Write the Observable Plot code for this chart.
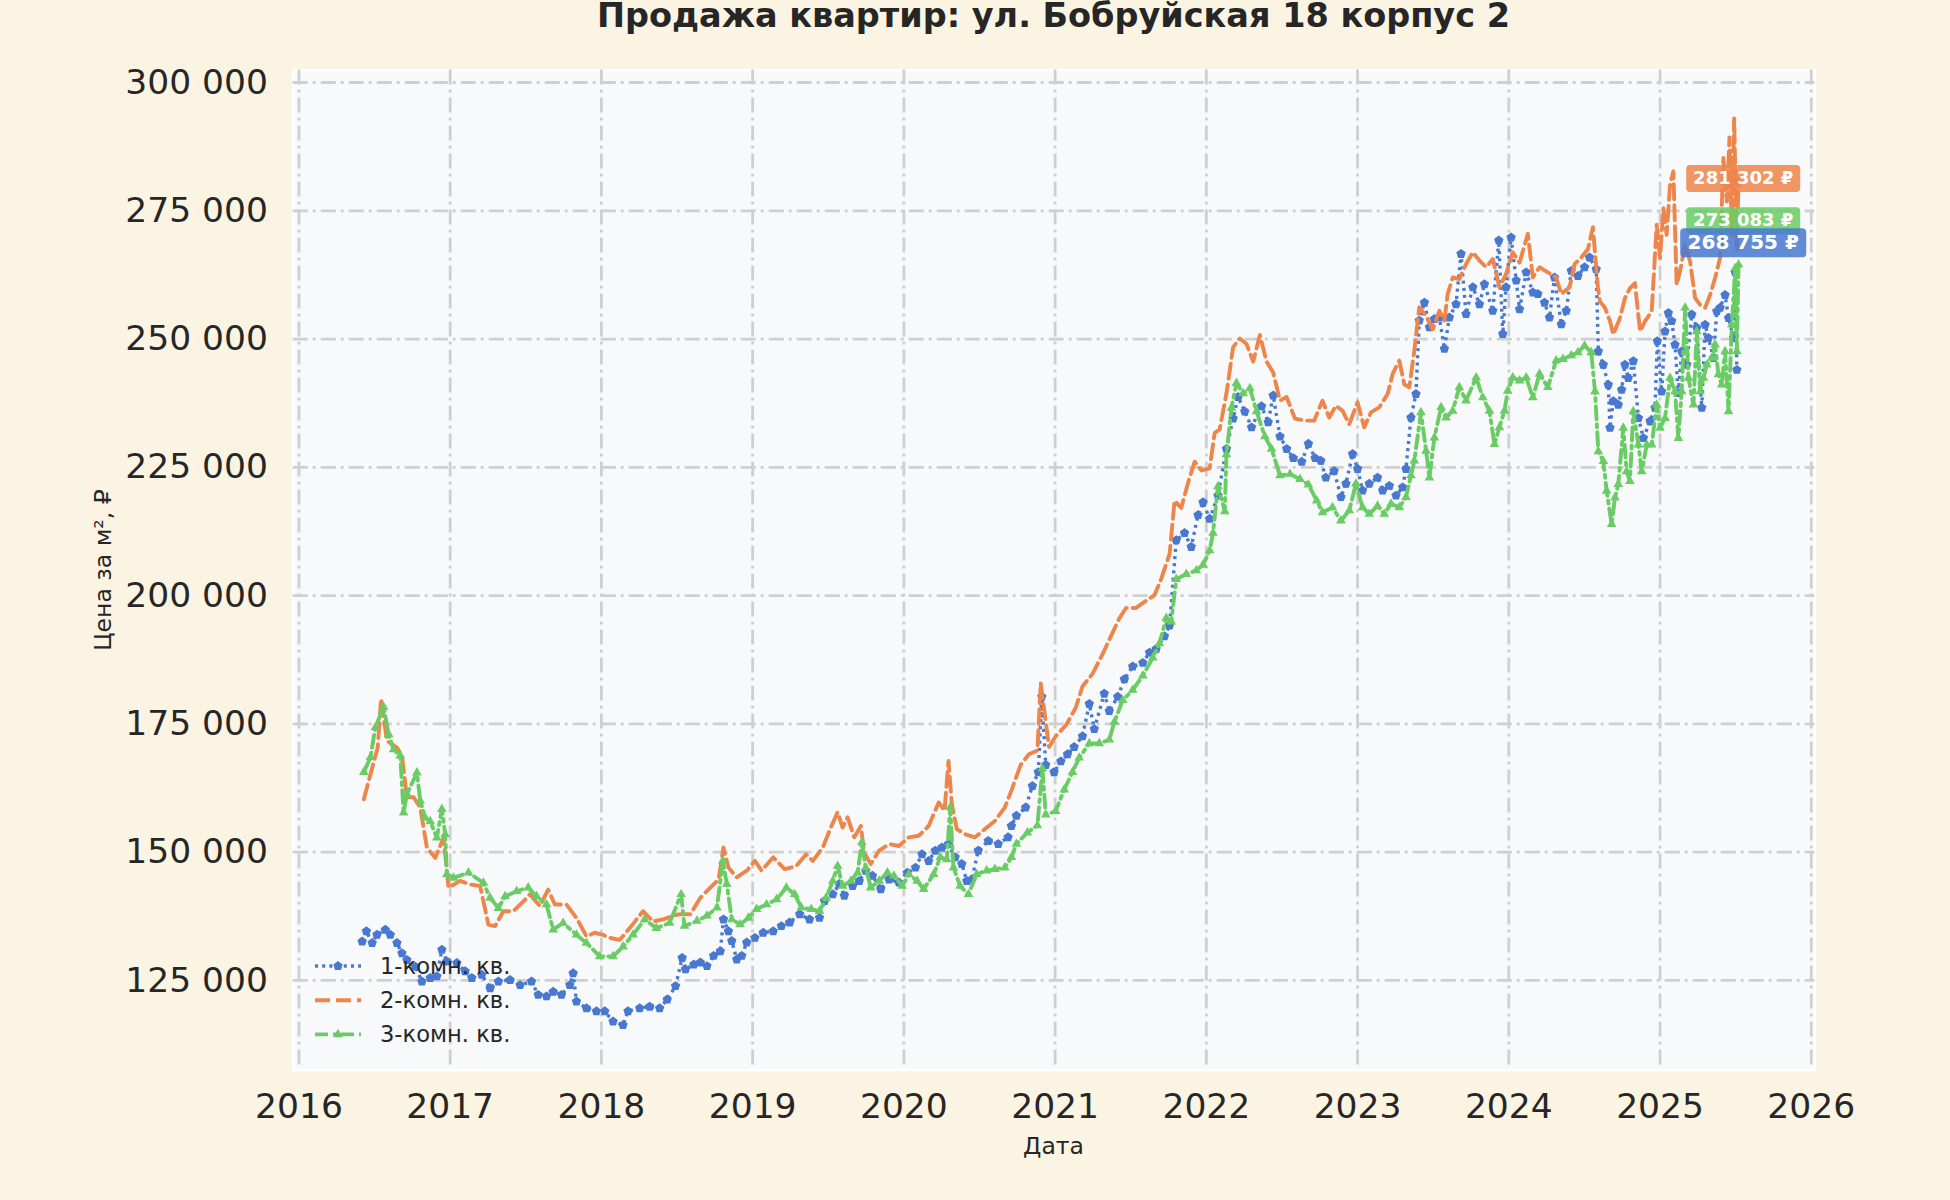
<!DOCTYPE html>
<html><head><meta charset="utf-8">
<script src="https://cdn.jsdelivr.net/npm/d3@7"></script>
<script src="https://cdn.jsdelivr.net/npm/@observablehq/plot@0.6"></script>
<style>
html,body{margin:0;padding:0;background:#fbf4e2;}
#chart{width:1950px;height:1200px;position:relative;}
</style></head><body><div id="chart"></div>
<script>
// Series: [decimal year, price per m² in thousands of ₽]
const room1 = [[2016.418,132.6],[2016.446,134.6],[2016.484,132.3],[2016.516,133.9],[2016.571,134.9],[2016.604,133.9],[2016.648,132.3],[2016.681,130.3],[2016.714,129.0],[2016.769,127.7],[2016.813,124.8],[2016.868,125.5],[2016.912,125.8],[2016.945,131.0],[2016.978,128.7],[2017.044,128.4],[2017.099,126.8],[2017.143,125.5],[2017.209,126.1],[2017.264,123.5],[2017.319,124.8],[2017.396,125.1],[2017.462,124.1],[2017.538,124.8],[2017.582,122.2],[2017.637,121.9],[2017.681,122.8],[2017.736,122.2],[2017.791,124.1],[2017.813,126.4],[2017.835,120.9],[2017.901,119.6],[2017.967,119.0],[2018.022,119.0],[2018.077,117.0],[2018.143,116.3],[2018.176,119.0],[2018.253,119.6],[2018.319,119.9],[2018.385,119.6],[2018.435,121.3],[2018.490,123.9],[2018.534,129.4],[2018.556,127.2],[2018.611,128.1],[2018.654,128.5],[2018.698,127.8],[2018.742,129.8],[2018.786,130.7],[2018.807,136.9],[2018.840,134.6],[2018.862,132.7],[2018.895,129.1],[2018.928,129.8],[2018.961,132.4],[2019.015,133.3],[2019.070,134.3],[2019.136,134.6],[2019.190,135.6],[2019.245,136.3],[2019.311,137.9],[2019.376,136.9],[2019.442,137.2],[2019.475,140.5],[2019.530,141.8],[2019.573,143.8],[2019.606,141.5],[2019.661,143.4],[2019.705,144.4],[2019.748,146.4],[2019.792,145.4],[2019.847,142.8],[2019.902,144.7],[2019.967,144.1],[2020.022,146.0],[2020.077,147.0],[2020.120,149.6],[2020.164,148.3],[2020.208,150.3],[2020.252,150.9],[2020.295,151.6],[2020.339,149.0],[2020.383,147.7],[2020.416,144.4],[2020.449,144.7],[2020.492,150.3],[2020.558,152.2],[2020.624,151.6],[2020.689,152.9],[2020.711,155.1],[2020.744,157.1],[2020.805,158.7],[2020.850,162.9],[2020.889,165.6],[2020.912,180.3],[2020.938,167.0],[2020.993,165.6],[2021.038,167.7],[2021.082,169.1],[2021.126,170.5],[2021.181,172.6],[2021.226,178.9],[2021.259,174.0],[2021.325,180.9],[2021.358,177.5],[2021.414,180.3],[2021.458,183.7],[2021.513,186.2],[2021.580,186.9],[2021.624,188.9],[2021.668,189.6],[2021.723,192.1],[2021.757,194.2],[2021.801,210.8],[2021.856,212.2],[2021.900,209.5],[2021.945,215.7],[2021.978,218.2],[2022.022,215.0],[2022.077,219.5],[2022.133,228.6],[2022.177,234.5],[2022.210,238.7],[2022.254,235.9],[2022.299,232.8],[2022.365,236.9],[2022.409,233.8],[2022.442,239.0],[2022.487,231.0],[2022.531,228.6],[2022.575,226.8],[2022.631,226.1],[2022.675,229.6],[2022.719,226.8],[2022.757,226.3],[2022.790,223.0],[2022.845,224.3],[2022.890,219.2],[2022.923,221.8],[2022.967,227.6],[2023.000,224.7],[2023.033,220.5],[2023.077,221.8],[2023.132,223.0],[2023.166,220.5],[2023.210,221.4],[2023.254,219.5],[2023.298,221.1],[2023.320,224.7],[2023.353,234.7],[2023.386,239.3],[2023.408,253.6],[2023.442,257.1],[2023.475,252.3],[2023.508,253.9],[2023.541,254.2],[2023.574,248.1],[2023.607,254.2],[2023.651,256.8],[2023.684,266.6],[2023.717,254.9],[2023.762,260.1],[2023.806,256.8],[2023.839,260.7],[2023.894,255.5],[2023.934,269.2],[2023.960,251.0],[2023.982,260.1],[2024.015,269.8],[2024.049,261.4],[2024.071,255.8],[2024.115,263.0],[2024.159,259.1],[2024.192,258.8],[2024.236,257.1],[2024.269,254.2],[2024.302,262.0],[2024.347,252.9],[2024.380,255.5],[2024.413,263.3],[2024.457,262.3],[2024.501,264.0],[2024.534,265.9],[2024.578,263.6],[2024.592,247.6],[2024.625,245.0],[2024.658,241.1],[2024.669,232.7],[2024.691,237.9],[2024.724,237.2],[2024.746,240.1],[2024.768,245.0],[2024.790,242.4],[2024.823,245.7],[2024.857,234.6],[2024.890,230.7],[2024.934,234.0],[2024.967,236.6],[2024.982,249.6],[2025.011,239.8],[2025.033,251.5],[2025.055,255.1],[2025.077,253.5],[2025.099,248.9],[2025.121,239.5],[2025.143,247.6],[2025.177,245.0],[2025.210,254.8],[2025.243,252.2],[2025.276,236.6],[2025.298,252.8],[2025.320,250.2],[2025.353,246.3],[2025.375,255.4],[2025.397,256.1],[2025.430,258.6],[2025.453,254.1],[2025.486,250.2],[2025.497,263.0],[2025.508,244.0]];

const room2 = [[2016.429,160.3],[2016.473,165.2],[2016.521,170.4],[2016.543,179.9],[2016.582,171.7],[2016.648,170.4],[2016.681,168.8],[2016.714,160.7],[2016.758,160.7],[2016.802,158.7],[2016.846,150.9],[2016.901,148.9],[2016.956,152.8],[2016.989,143.1],[2017.066,144.4],[2017.132,143.7],[2017.198,143.4],[2017.253,135.9],[2017.297,135.6],[2017.352,138.5],[2017.418,138.5],[2017.484,140.4],[2017.527,141.8],[2017.593,139.5],[2017.648,142.7],[2017.692,139.8],[2017.769,139.8],[2017.835,137.2],[2017.901,133.6],[2017.956,134.3],[2018.011,133.9],[2018.055,133.3],[2018.121,132.9],[2018.187,135.2],[2018.275,138.5],[2018.341,136.5],[2018.407,136.9],[2018.495,137.8],[2018.523,137.9],[2018.589,137.9],[2018.654,141.1],[2018.720,143.1],[2018.775,144.7],[2018.807,150.9],[2018.840,147.0],[2018.895,145.1],[2018.961,146.4],[2019.015,148.3],[2019.059,146.4],[2019.136,149.0],[2019.212,146.7],[2019.289,147.3],[2019.354,149.6],[2019.398,148.3],[2019.464,150.9],[2019.508,154.2],[2019.562,157.8],[2019.595,154.8],[2019.628,156.8],[2019.672,152.9],[2019.716,155.1],[2019.737,149.9],[2019.781,147.7],[2019.836,150.3],[2019.902,151.6],[2019.967,151.2],[2020.033,152.9],[2020.098,153.2],[2020.164,155.1],[2020.230,159.7],[2020.269,158.1],[2020.295,167.8],[2020.317,159.4],[2020.350,154.5],[2020.405,153.5],[2020.470,152.9],[2020.536,154.5],[2020.602,156.1],[2020.667,158.7],[2020.711,162.0],[2020.772,167.0],[2020.827,169.1],[2020.883,169.8],[2020.905,183.0],[2020.938,175.4],[2020.960,170.5],[2021.004,172.6],[2021.071,174.7],[2021.137,178.2],[2021.181,182.3],[2021.248,184.8],[2021.314,188.6],[2021.358,191.4],[2021.425,195.6],[2021.469,197.6],[2021.535,197.6],[2021.602,199.0],[2021.657,200.1],[2021.701,203.2],[2021.757,208.1],[2021.790,218.5],[2021.834,217.1],[2021.879,222.0],[2021.923,226.1],[2021.967,224.4],[2022.022,224.8],[2022.055,231.7],[2022.088,232.4],[2022.133,239.4],[2022.177,248.4],[2022.221,250.1],[2022.265,249.1],[2022.310,245.6],[2022.354,250.8],[2022.398,245.6],[2022.442,243.5],[2022.487,238.0],[2022.531,238.7],[2022.586,234.5],[2022.653,234.1],[2022.713,234.1],[2022.768,238.0],[2022.812,234.7],[2022.857,237.0],[2022.901,236.0],[2022.945,233.4],[2023.000,237.7],[2023.044,232.8],[2023.088,235.7],[2023.143,236.7],[2023.199,239.3],[2023.232,243.2],[2023.276,245.8],[2023.309,241.2],[2023.342,240.6],[2023.375,247.7],[2023.408,256.2],[2023.453,254.5],[2023.497,251.9],[2023.541,255.5],[2023.574,253.6],[2023.596,258.8],[2023.629,262.0],[2023.673,261.7],[2023.717,264.6],[2023.762,266.9],[2023.806,265.3],[2023.850,264.0],[2023.894,265.6],[2023.938,260.1],[2023.982,262.7],[2024.026,266.9],[2024.071,264.9],[2024.126,270.5],[2024.159,262.0],[2024.203,264.0],[2024.258,263.0],[2024.313,262.0],[2024.347,258.8],[2024.402,260.1],[2024.435,264.6],[2024.479,265.9],[2024.523,267.5],[2024.556,271.8],[2024.589,260.1],[2024.603,257.3],[2024.636,256.1],[2024.669,253.5],[2024.691,250.9],[2024.735,254.1],[2024.768,258.0],[2024.801,259.9],[2024.834,260.9],[2024.868,251.5],[2024.901,253.5],[2024.945,255.4],[2024.978,272.3],[2025.000,265.8],[2025.022,275.5],[2025.044,270.3],[2025.066,280.1],[2025.088,282.7],[2025.110,260.6],[2025.132,263.2],[2025.166,268.4],[2025.199,265.1],[2025.232,258.0],[2025.265,256.7],[2025.298,256.1],[2025.331,258.6],[2025.364,261.9],[2025.397,265.8],[2025.419,285.3],[2025.442,276.8],[2025.459,289.3],[2025.475,270.3],[2025.490,293.0],[2025.508,267.1],[2025.519,281.3]];

const room3 = [[2016.429,165.6],[2016.473,168.5],[2016.505,174.3],[2016.560,178.3],[2016.593,173.0],[2016.626,170.0],[2016.670,168.8],[2016.692,157.7],[2016.714,161.3],[2016.780,165.5],[2016.802,160.0],[2016.835,156.7],[2016.868,156.0],[2016.912,152.8],[2016.945,158.4],[2016.967,153.5],[2016.978,145.7],[2017.022,145.0],[2017.121,146.0],[2017.220,144.0],[2017.264,141.1],[2017.319,139.1],[2017.363,141.4],[2017.440,142.4],[2017.516,143.1],[2017.571,141.4],[2017.637,139.8],[2017.681,134.9],[2017.747,136.2],[2017.835,133.9],[2017.901,132.3],[2017.989,129.7],[2018.077,129.7],[2018.143,131.6],[2018.209,133.9],[2018.286,136.9],[2018.363,135.2],[2018.451,136.2],[2018.527,141.8],[2018.549,135.6],[2018.632,136.6],[2018.698,137.6],[2018.764,139.2],[2018.803,148.3],[2018.829,143.8],[2018.862,136.9],[2018.917,135.9],[2018.972,137.2],[2019.026,138.9],[2019.092,139.8],[2019.158,140.8],[2019.223,143.1],[2019.278,141.8],[2019.322,139.2],[2019.387,138.9],[2019.442,138.5],[2019.486,141.1],[2019.530,144.4],[2019.562,147.3],[2019.595,143.4],[2019.650,144.4],[2019.694,146.0],[2019.722,151.9],[2019.748,147.0],[2019.781,143.1],[2019.836,144.4],[2019.891,146.0],[2019.934,145.4],[2019.989,143.4],[2020.033,145.7],[2020.088,144.4],[2020.131,142.8],[2020.197,145.7],[2020.241,149.0],[2020.284,148.6],[2020.306,158.7],[2020.328,147.0],[2020.372,143.4],[2020.427,141.8],[2020.481,145.7],[2020.547,146.4],[2020.602,146.7],[2020.667,147.0],[2020.711,149.0],[2020.744,151.6],[2020.816,153.8],[2020.883,155.2],[2020.916,166.3],[2020.938,157.3],[2021.004,158.0],[2021.060,162.2],[2021.115,165.6],[2021.159,168.4],[2021.226,171.2],[2021.292,171.2],[2021.358,171.9],[2021.392,175.4],[2021.447,179.6],[2021.513,181.6],[2021.580,184.4],[2021.646,187.9],[2021.690,190.7],[2021.735,195.6],[2021.768,194.9],[2021.801,203.2],[2021.867,204.2],[2021.934,204.9],[2021.978,206.0],[2022.022,208.8],[2022.044,212.2],[2022.077,221.3],[2022.122,216.4],[2022.133,227.5],[2022.166,236.6],[2022.199,241.4],[2022.243,239.4],[2022.288,240.4],[2022.332,235.9],[2022.387,231.0],[2022.431,228.6],[2022.487,223.4],[2022.553,223.7],[2022.619,222.7],[2022.675,221.6],[2022.730,218.5],[2022.768,216.2],[2022.834,217.2],[2022.890,214.6],[2022.945,216.6],[2022.989,221.8],[2023.033,217.2],[2023.077,215.9],[2023.132,217.5],[2023.177,215.9],[2023.221,217.9],[2023.276,217.2],[2023.320,219.2],[2023.353,223.4],[2023.375,226.3],[2023.419,235.7],[2023.453,228.2],[2023.475,223.0],[2023.508,230.8],[2023.552,236.7],[2023.585,234.7],[2023.629,236.0],[2023.673,240.6],[2023.717,238.0],[2023.784,242.5],[2023.828,238.6],[2023.872,236.0],[2023.905,229.5],[2023.938,232.8],[2023.971,236.0],[2023.993,239.9],[2024.026,242.5],[2024.071,241.9],[2024.115,242.5],[2024.159,238.6],[2024.203,243.2],[2024.258,240.6],[2024.313,245.8],[2024.358,246.1],[2024.413,246.8],[2024.457,247.4],[2024.501,248.7],[2024.545,247.4],[2024.570,239.8],[2024.592,228.1],[2024.625,226.2],[2024.647,220.4],[2024.680,213.9],[2024.702,219.1],[2024.724,221.7],[2024.757,232.7],[2024.779,224.2],[2024.801,222.3],[2024.823,235.9],[2024.857,229.4],[2024.879,224.2],[2024.912,229.4],[2024.945,229.4],[2024.978,237.2],[2025.000,232.7],[2025.033,234.6],[2025.066,242.4],[2025.099,239.8],[2025.121,230.7],[2025.143,239.8],[2025.166,256.1],[2025.188,242.4],[2025.221,237.2],[2025.243,251.5],[2025.265,239.8],[2025.287,242.4],[2025.309,245.0],[2025.342,246.3],[2025.364,248.9],[2025.386,243.1],[2025.408,241.1],[2025.430,247.6],[2025.453,235.9],[2025.475,252.8],[2025.497,263.8],[2025.508,247.6],[2025.519,264.5]];

const seriesNames = ["1-комн. кв.", "2-комн. кв.", "3-комн. кв."];
const seriesColors = ["#4878d0", "#ee854a", "#6acc64"];
const lastValues = [268755, 281302, 273083];   // ₽ per m²
const labelYear = 2025.55;
const xTicks = [2016, 2017, 2018, 2019, 2020, 2021, 2022, 2023, 2024, 2025, 2026];
const yTicks = [125, 150, 175, 200, 225, 250, 275, 300];   // thousands ₽
const titleText = "Продажа квартир: ул. Бобруйская 18 корпус 2";
const xLabel = "Дата";
const yLabel = "Цена за м², ₽";

const FONT = "DejaVu Sans";
const INK = "#262626";
const fmtRub = v => d3.format(",")(v).replace(/,/g, " ") + " ₽";

const pentagon = {draw(ctx, size) {
  const r = Math.sqrt(size / 2.3776);
  for (let i = 0; i < 5; i++) {
    const a = -Math.PI / 2 + i * 2 * Math.PI / 5;
    const x = r * Math.cos(a), y = r * Math.sin(a);
    if (i) ctx.lineTo(x, y); else ctx.moveTo(x, y);
  }
  ctx.closePath();
}};
function pill(w, h, rad) {
  return {draw(ctx) {
    const x0 = -w / 2, x1 = w / 2, y0 = -h / 2, y1 = h / 2;
    ctx.moveTo(x0 + rad, y0); ctx.lineTo(x1 - rad, y0); ctx.arcTo(x1, y0, x1, y0 + rad, rad);
    ctx.lineTo(x1, y1 - rad); ctx.arcTo(x1, y1, x1 - rad, y1, rad);
    ctx.lineTo(x0 + rad, y1); ctx.arcTo(x0, y1, x0, y1 - rad, rad);
    ctx.lineTo(x0, y0 + rad); ctx.arcTo(x0, y0, x0 + rad, y0, rad); ctx.closePath();
  }};
}

const labels = lastValues.map((v, i) => ({v, i, color: seriesColors[i]}));
const labelOrder = [labels[1], labels[2]]; // orange then green
const labelsBig = [labels[0]];              // blue on top

const styles = [
  {dash: "3,4.2", sym: pentagon, r: 4.3, w: 3.4},
  {dash: "15,6", sym: null, r: 0, w: 3.9},
  {dash: "13,5,3,5", sym: d3.symbolTriangle, r: 3.6, w: 3.9}
];

const X = d => d[0], Y = d => d[1];
const GRID = {stroke: "#cfcfcf", strokeOpacity: 1, strokeWidth: 2.8, strokeDasharray: "15,5,3,5"};

const plot = Plot.plot({
  width: 1950, height: 1200,
  marginLeft: 292.7, marginRight: 135.6, marginTop: 69.6, marginBottom: 130.5,
  style: {background: "transparent", fontFamily: FONT, overflow: "visible"},
  x: {type: "linear", domain: [2015.962, 2026.024]},
  y: {type: "linear", domain: [107.55, 302.42]},
  marks: [
    Plot.frame({fill: "#f8f9fa", stroke: "#ffffff", strokeWidth: 2.5}),
    Plot.gridX(xTicks, GRID),
    Plot.gridY(yTicks, GRID),
    Plot.axisX({ticks: xTicks, tickSize: 0, tickPadding: 23, tickFormat: d => String(d), fontSize: 34.5, color: INK, label: null}),
    Plot.axisY({ticks: yTicks, tickSize: 0, tickPadding: 25.3, tickFormat: d => d + " 000", fontSize: 34.5, color: INK, label: null}),
    // 1-room
    Plot.line(room1, {x: X, y: Y, stroke: seriesColors[0], strokeWidth: styles[0].w, strokeDasharray: styles[0].dash, strokeLinecap: "butt"}),
    Plot.dot(room1, {x: X, y: Y, symbol: pentagon, r: styles[0].r, fill: seriesColors[0], stroke: "none"}),
    // 2-room
    Plot.line(room2, {x: X, y: Y, stroke: seriesColors[1], strokeWidth: styles[1].w, strokeDasharray: styles[1].dash}),
    // 3-room
    Plot.line(room3, {x: X, y: Y, stroke: seriesColors[2], strokeWidth: styles[2].w, strokeDasharray: styles[2].dash}),
    Plot.dot(room3, {x: X, y: Y, symbol: "triangle", r: styles[2].r, fill: seriesColors[2], stroke: "none"}),
    // last-value badges
    Plot.dot(labelOrder, {x: () => labelYear, y: d => d.v / 1000, symbol: pill(114, 27, 4), r: 5, fill: d => d.color, fillOpacity: 0.85, stroke: "none"}),
    Plot.text(labelOrder, {x: () => labelYear, y: d => d.v / 1000, text: d => fmtRub(d.v), fill: "white", fontWeight: "bold", fontSize: 18, fontFamily: FONT}),
    Plot.dot(labelsBig, {x: () => labelYear, y: d => d.v / 1000, symbol: pill(126, 29, 4), r: 5, fill: d => d.color, fillOpacity: 0.85, stroke: "none"}),
    Plot.text(labelsBig, {x: () => labelYear, y: d => d.v / 1000, text: d => fmtRub(d.v), fill: "white", fontWeight: "bold", fontSize: 20, fontFamily: FONT})
  ]
});

document.getElementById("chart").appendChild(plot);

// Title, axis labels and legend
const svg = d3.select(plot);
svg.append("text").attr("x", 1053.5).attr("y", 27.4).attr("text-anchor", "middle")
  .attr("font-family", FONT).attr("font-weight", "bold").attr("font-size", 33.5).attr("fill", INK).text(titleText);
svg.append("text").attr("x", 1053.5).attr("y", 1154).attr("text-anchor", "middle")
  .attr("font-family", FONT).attr("font-size", 23.5).attr("fill", INK).text(xLabel);
svg.append("text").attr("transform", "translate(111,570) rotate(-90)").attr("text-anchor", "middle")
  .attr("font-family", FONT).attr("font-size", 23.5).attr("fill", INK).text(yLabel);

const leg = svg.append("g");
seriesNames.forEach((name, i) => {
  const cy = 966 + i * 34.2;
  leg.append("line").attr("x1", 315).attr("x2", 361).attr("y1", cy).attr("y2", cy)
    .attr("stroke", seriesColors[i]).attr("stroke-width", styles[i].w).attr("stroke-dasharray", styles[i].dash);
  if (styles[i].sym) {
    leg.append("path").attr("transform", `translate(338,${cy})`)
      .attr("d", d3.symbol(styles[i].sym, Math.PI * styles[i].r * styles[i].r)()).attr("fill", seriesColors[i]);
  }
  leg.append("text").attr("x", 380).attr("y", cy + 8).attr("text-anchor", "start")
    .attr("font-family", FONT).attr("font-size", 22.6).attr("fill", INK).text(name);
});
</script></body></html>
